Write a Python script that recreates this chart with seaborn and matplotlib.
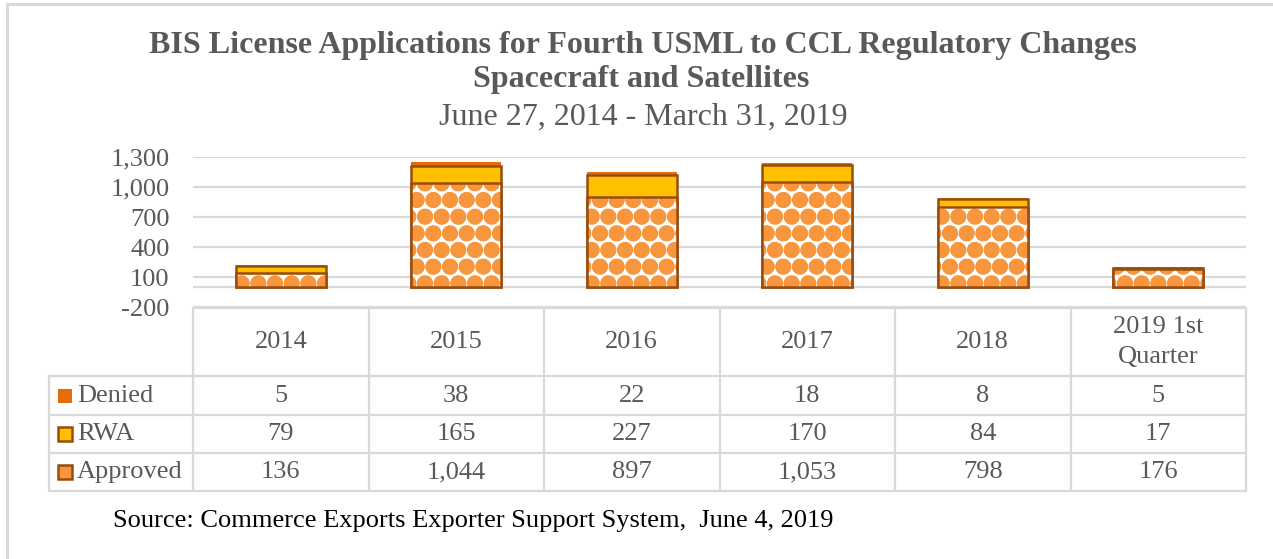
import matplotlib
matplotlib.use("Agg")
import matplotlib.pyplot as plt
import seaborn as sns
import pandas as pd
from matplotlib.lines import Line2D
from matplotlib.patches import Rectangle

# ---------------- data ----------------
categories = ["2014", "2015", "2016", "2017", "2018", "2019 1st\nQuarter"]
denied = [5, 38, 22, 18, 8, 5]
rwa = [79, 165, 227, 170, 84, 17]
approved = [136, 1044, 897, 1053, 798, 176]
series_names = ["Denied", "RWA", "Approved"]
yticks = [-200, 100, 400, 700, 1000, 1300]

title1 = "BIS License Applications for Fourth USML to CCL Regulatory Changes"
title2 = "Spacecraft and Satellites"
subtitle = "June 27, 2014 - March 31, 2019"
source = "Source: Commerce Exports Exporter Support System,  June 4, 2019"

df = pd.DataFrame({"cat": categories, "Denied": denied, "RWA": rwa, "Approved": approved})
df["top_rwa"] = df["Approved"] + df["RWA"]
df["top_all"] = df["top_rwa"] + df["Denied"]

# ---------------- style ----------------
sns.set_style("white")
plt.rcParams["font.family"] = ["Liberation Serif", "DejaVu Serif"]
plt.rcParams["hatch.linewidth"] = 3.2

GRAY_TXT = "#595959"
GRID = "#d9d9d9"
C_DEN = "#E46C0A"
C_RWA = "#FFC000"
C_APP = "#F7963C"
EDGE = "#9A4C0C"

W, H = 1273, 559
fig = plt.figure(figsize=(W / 100, H / 100), dpi=100)

def fx(px):
    return px / W

def fy(py):
    return 1 - py / H

# ---------------- bar chart ----------------
ax_l, ax_r, ax_t, ax_b = 193, 1246, 157, 307
ax = fig.add_axes([fx(ax_l), fy(ax_b), fx(ax_r - ax_l), fy(ax_t) - fy(ax_b)])

bw = 0.51
sns.barplot(data=df, x="cat", y="top_all", order=categories, color=C_DEN,
            width=bw, linewidth=0, saturation=1, ax=ax)
sns.barplot(data=df, x="cat", y="top_rwa", order=categories, color=C_RWA,
            width=bw, linewidth=1.8, edgecolor=EDGE, saturation=1, ax=ax)
sns.barplot(data=df, x="cat", y="Approved", order=categories, color="white",
            width=bw, linewidth=0, edgecolor=C_APP, hatch="O.",
            saturation=1, ax=ax)
sns.barplot(data=df, x="cat", y="Approved", order=categories, fill=False,
            width=bw, linewidth=1.8, edgecolor=EDGE, saturation=1, ax=ax)

ax.set_xlim(-0.5, len(categories) - 0.5)
ax.set_ylim(yticks[0], yticks[-1])
ax.set_yticks(yticks)
ax.set_yticklabels([f"{v:,}" for v in yticks])
ax.tick_params(axis="y", length=0, pad=17, labelsize=19, labelcolor=GRAY_TXT)
ax.set_xticks([])
ax.set_xlabel("")
ax.set_ylabel("")
ax.grid(axis="y", color=GRID, linewidth=1.6)
ax.set_axisbelow(True)
ax.axhline(0, color=GRID, linewidth=1.6, zorder=0.5)
for s in ax.spines.values():
    s.set_visible(False)
ax.patch.set_alpha(0)

# ---------------- data table ----------------
tb_t, tb_b = 308, 491
tab = fig.add_axes([fx(ax_l), fy(tb_b), fx(ax_r - ax_l), fy(tb_t) - fy(tb_b)])
tab.set_xlim(-0.5, len(categories) - 0.5)
tab.set_ylim(tb_b - tb_t, 0)
tab.axis("off")
unit = (ax_r - ax_l) / len(categories)
lab_left = -0.5 - (ax_l - 49) / unit
rows = [0, 68, 107, 145, 183]
lk = dict(color=GRID, linewidth=1.6, clip_on=False)
tab.plot([-0.5, 5.5], [rows[0], rows[0]], **lk)
for r in rows[1:]:
    tab.plot([lab_left, 5.5], [r, r], **lk)
for i in range(len(categories) + 1):
    tab.plot([i - 0.5, i - 0.5], [rows[0], rows[-1]], **lk)
tab.plot([lab_left, lab_left], [rows[1], rows[-1]], **lk)

fs = 19
for i, c in enumerate(categories):
    tab.text(i, (rows[0] + rows[1]) / 2, c, ha="center", va="center",
             fontsize=fs, color=GRAY_TXT, linespacing=1.45)
row_vals = [denied, rwa, approved]
for k, (name, vals) in enumerate(zip(series_names, row_vals)):
    yc = (rows[k + 1] + rows[k + 2]) / 2
    for i, v in enumerate(vals):
        tab.text(i, yc, f"{v:,}", ha="center", va="center", fontsize=fs,
                 color=GRAY_TXT)
    tab.text(lab_left + 28 / unit, yc, name, ha="left", va="center",
             fontsize=fs, color=GRAY_TXT, clip_on=False)

# legend keys in the table
key_w = 14 / unit
key_h = 14
kx = lab_left + 9 / unit
def key(row, **kw):
    yc = (rows[row + 1] + rows[row + 2]) / 2
    tab.add_patch(Rectangle((kx, yc - key_h / 2), key_w, key_h, clip_on=False, **kw))
key(0, facecolor=C_DEN, edgecolor="none")
key(1, facecolor=C_RWA, edgecolor=EDGE, linewidth=1.8)
key(2, facecolor=C_APP, edgecolor=EDGE, linewidth=1.8)

# ---------------- titles and source ----------------
fig.text(fx(643), fy(45), title1, ha="center", va="center", fontsize=23,
         fontweight="bold", color=GRAY_TXT)
fig.text(fx(641), fy(80), title2, ha="center", va="center", fontsize=23,
         fontweight="bold", color=GRAY_TXT)
fig.text(fx(643), fy(117), subtitle, ha="center", va="center", fontsize=23,
         color=GRAY_TXT)
fig.text(fx(113), fy(521), source, ha="left", va="center", fontsize=19,
         color="black")

# outer border (partially visible frame)
fig.add_artist(Line2D([fx(7), 1.0], [fy(4), fy(4)], color=GRID, linewidth=2.2))
fig.add_artist(Line2D([fx(7), fx(7)], [fy(4), 0.0], color=GRID, linewidth=2.2))

fig.savefig("out.png", dpi=100)
